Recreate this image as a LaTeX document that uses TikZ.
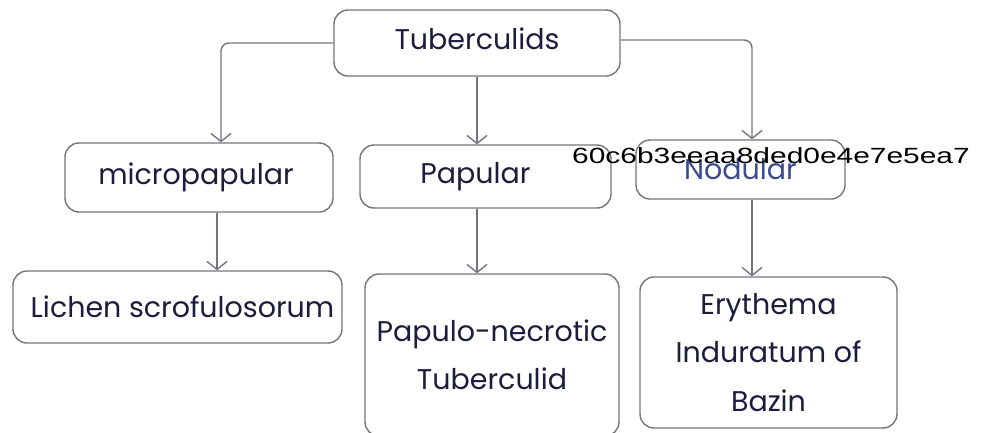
\documentclass[tikz,border=0pt]{standalone}
\usepackage{fontspec}
\setmainfont{Poppins}
\newfontfamily\hashfont{Liberation Sans}
\usetikzlibrary{arrows.meta}
\definecolor{linegray}{HTML}{74747E}
\definecolor{inkblue}{HTML}{1C1C3C}
\definecolor{nodblue}{HTML}{3A4C8E}
\begin{document}
\begin{tikzpicture}[x=1pt,y=-1pt,
  box/.style={draw=linegray, line width=1.4pt, rounded corners=14pt, fill=white,
    inner sep=0pt, text=inkblue, align=center,
    font=\fontsize{28.5}{48.5}\selectfont},
  link/.style={draw=linegray, line width=1.4pt, rounded corners=8pt,
    -{Straight Barb[length=8pt,width=20pt,line width=1.4pt]}},
  hash/.style={font=\hashfont\fontsize{22}{26}\selectfont, text=black, inner sep=0pt}]
\useasboundingbox (0,0) rectangle (985,432);
\clip (0,0) rectangle (985,432);
\fill[white] (0,0) rectangle (985,432);

% boxes
\node[box, minimum width=286pt, minimum height=66pt] (tub) at (477,43)
  {\raisebox{4pt}[\height][\depth]{Tuberculids}};
\node[box, minimum width=268pt, minimum height=69pt] (micro) at (199,177.5)
  {\hspace*{-6pt}micropapular};
\node[box, minimum width=251pt, minimum height=63pt] (pap) at (485.5,176.5)
  {\hspace*{-20pt}Papular};
\node[box, minimum width=209pt, minimum height=59pt, text=nodblue] (nod) at (740.5,169.5) {Nodular};
\node[box, minimum width=329pt, minimum height=72pt] (lich) at (177.5,307)
  {Lichen scrofulosorum\hspace*{-10pt}};
\node[box, minimum width=254pt, minimum height=162pt] (necro) at (492,355) {Papulo-necrotic\\Tuberculid};
\node[box, minimum width=257pt, minimum height=151pt] (eryth) at (768.5,352.5) {Erythema\\Induratum of\\Bazin};

% connectors
\draw[link] (tub.west) -| ([xshift=22pt]micro.north);
\draw[link] ([yshift=3pt]tub.east) -| ([xshift=11.5pt]nod.north);
\draw[link] (tub.south) -- (tub.south |- pap.north);
\draw[link] ([xshift=18pt]micro.south) -- ([xshift=18pt]micro.south |- lich.north);
\draw[link] ([xshift=-8.5pt]pap.south) -- ([xshift=-8.5pt]pap.south |- necro.north);
\draw[link] ([xshift=11.5pt]nod.south) -- ([xshift=11.5pt]nod.south |- eryth.north);

% stamped identifier over the Nodular box
\node[hash, anchor=base] (stamp) at (771,163) {\scalebox{1.36}[1]{60c6b3eeaa8ded0e4e7e5ea7}};
\end{tikzpicture}
\end{document}
